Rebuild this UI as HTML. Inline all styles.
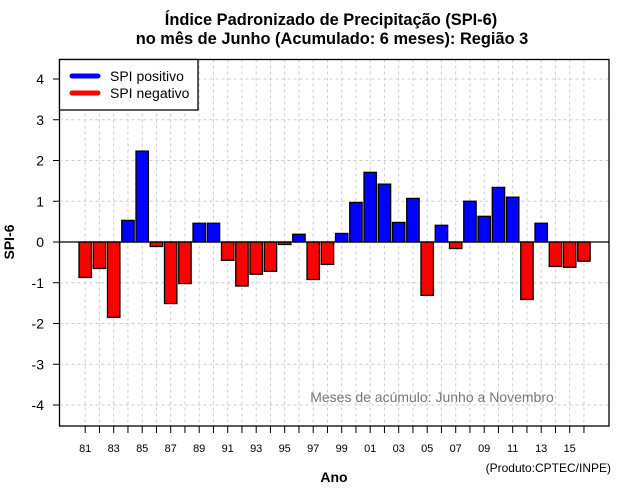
<!DOCTYPE html>
<html><head><meta charset="utf-8"><style>
body{margin:0;background:#fff;}
svg{display:block;font-family:"Liberation Sans",sans-serif;}
</style></head><body>
<svg id="chart" width="640" height="500" xmlns="http://www.w3.org/2000/svg">
<text x="331" y="25" text-anchor="middle" font-size="16.4" font-weight="bold">Índice Padronizado de Precipitação (SPI-6)</text>
<text x="332" y="44" text-anchor="middle" font-size="16.4" font-weight="bold">no mês de Junho (Acumulado: 6 meses): Região 3</text>
<g id="grid"></g>
<g id="bars"></g>
<g id="axes"></g>
<line x1="59.5" x2="609" y1="242" y2="242" stroke="#000" stroke-width="1.3"/>
<rect x="59.5" y="59.5" width="549.5" height="366.5" fill="none" stroke="#000" stroke-width="1.3"/>
<text x="14" y="242" transform="rotate(-90 14 242)" text-anchor="middle" font-size="14" font-weight="bold">SPI-6</text>
<text x="334" y="482" text-anchor="middle" font-size="14" font-weight="bold">Ano</text>
<text x="611" y="472" text-anchor="end" font-size="12">(Produto:CPTEC/INPE)</text>
<text x="432" y="402" text-anchor="middle" font-size="14" fill="#777">Meses de acúmulo: Junho a Novembro</text>
<g>
<rect x="59.5" y="59.5" width="138.5" height="50.5" fill="#fff" stroke="#000" stroke-width="1.3"/>
<line x1="72" x2="98" y1="76" y2="76" stroke="#00f" stroke-width="5" stroke-linecap="round"/>
<text x="110" y="81" font-size="14">SPI positivo</text>
<line x1="72" x2="98" y1="93" y2="93" stroke="#f00" stroke-width="5" stroke-linecap="round"/>
<text x="110" y="98" font-size="14">SPI negativo</text>
</g>
</svg>
<script>
const years = [1981,1982,1983,1984,1985,1986,1987,1988,1989,1990,1991,1992,1993,1994,1995,1996,1997,1998,1999,2000,2001,2002,2003,2004,2005,2006,2007,2008,2009,2010,2011,2012,2013,2014,2015,2016];
const spiValues = [-0.87,-0.65,-1.85,0.53,2.23,-0.11,-1.51,-1.02,0.46,0.46,-0.45,-1.08,-0.79,-0.72,-0.06,0.19,-0.92,-0.55,0.21,0.97,1.71,1.42,0.48,1.07,-1.31,0.41,-0.16,1.0,0.63,1.34,1.10,-1.41,0.46,-0.6,-0.62,-0.47];
const yTicks = [-4,-3,-2,-1,0,1,2,3,4];
const xTickLabels = ["81","83","85","87","89","91","93","95","97","99","01","03","05","07","09","11","13","15"];

const NS="http://www.w3.org/2000/svg";
const x0=85.2, step=14.25, zeroY=242, unit=40.75, barW=12.4;
function xScale(i){return x0+i*step;}
function yScale(v){return zeroY-v*unit;}
function mk(tag,attrs,parent){const e=document.createElementNS(NS,tag);for(const k in attrs)e.setAttribute(k,attrs[k]);parent.appendChild(e);return e;}
const grid=document.getElementById('grid'), bars=document.getElementById('bars'), axes=document.getElementById('axes');
yTicks.forEach(t=>{
  const y=yScale(t);
  const g=mk('line',{x1:59.5,x2:609,y1:y,y2:y,stroke:'#ccc','stroke-dasharray':'3,3'},grid);
  
  
  const tk=mk('line',{x1:53,x2:59.5,y1:y,y2:y,stroke:'#000'},axes);
  
  
  const tx=mk('text',{x:44,y:y+5,'text-anchor':'end','font-size':'14'},axes);
  tx.textContent=String(t);
  
  
});
years.forEach((yr,i)=>{
  const x=xScale(i);
  const g=mk('line',{x1:x,x2:x,y1:59.5,y2:426,stroke:'#ccc','stroke-dasharray':'3,3'},grid);
  
  
  const tk=mk('line',{x1:x,x2:x,y1:426,y2:433,stroke:'#000'},axes);
  
  
  const v=spiValues[i];
  const top=Math.min(yScale(v),zeroY), h=Math.abs(yScale(v)-zeroY);
  const b=mk('rect',{x:x-barW/2,y:top,width:barW,height:h,fill:v>=0?'#00f':'#f00',stroke:'#000','stroke-width':1.3},bars);
  
  
});
xTickLabels.forEach((lab,k)=>{
  const x=xScale(k*2);
  const t=mk('text',{x:x,y:452,'text-anchor':'middle','font-size':'11'},axes);
  t.textContent=lab;
  
  
});
</script>
</body></html>
